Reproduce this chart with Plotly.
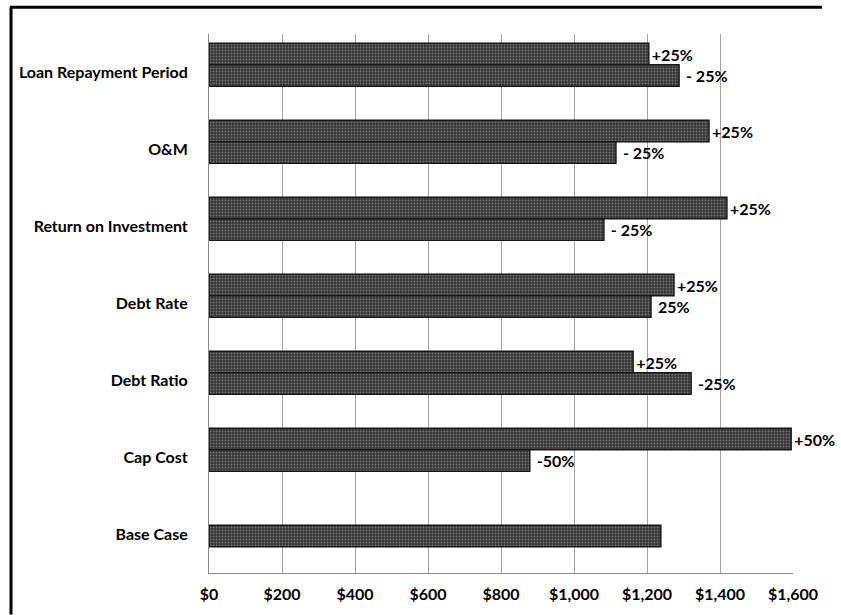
import plotly.graph_objects as go

categories = ["Base Case", "Cap Cost", "Debt Ratio", "Debt Rate",
              "Return on Investment", "O&M", "Loan Repayment Period"]

sens_categories = categories[1:]
plus_values = [1595, 1162, 1274, 1419, 1370, 1205]
plus_labels = ["+50%", "+25%", "+25%", "+25%", "+25%", "+25%"]
minus_values = [879, 1321, 1211, 1082, 1115, 1288]
minus_labels = ["-50%", "-25%", "25%", "- 25%", "- 25%", "- 25%"]
base_category = ["Base Case"]
base_value = [1238]

tick_values = [0, 200, 400, 600, 800, 1000, 1200, 1400, 1600]
tick_labels = ["$0", "$200", "$400", "$600", "$800", "$1,000", "$1,200", "$1,400", "$1,600"]

FONT = "Lato"
edge = "#161616"
W = 0.28
pattern = dict(shape=".", bgcolor="#353535", fgcolor="#767676",
               size=3, solidity=0.3, fillmode="replace")
marker = dict(color="#353535", line=dict(color=edge, width=1.4), pattern=pattern)
label_font = dict(family=FONT, size=16, color="black", weight="bold")

fig = go.Figure()
fig.add_trace(go.Bar(
    y=sens_categories, x=plus_values, orientation="h",
    offset=0.1, width=W, marker=marker,
    text=plus_labels, textposition="outside",
    cliponaxis=False, textfont=label_font,
    showlegend=False, hoverinfo="skip"))
fig.add_trace(go.Bar(
    y=sens_categories, x=minus_values, orientation="h",
    offset=0.1 - W, width=W, marker=marker,
    text=minus_labels, texttemplate=" %{text}", textposition="outside",
    cliponaxis=False, textfont=label_font,
    showlegend=False, hoverinfo="skip"))
fig.add_trace(go.Bar(
    y=base_category, x=base_value, orientation="h",
    offset=-W / 2 - 0.02, width=W, marker=marker,
    showlegend=False, hoverinfo="skip"))

L, R, T, B = 209, 48, 34, 37
pw = 841 - L - R
ph = 615 - T - B

def px_x(p):
    return (p - L) / pw

def px_y(p):
    return (615 - B - p) / ph

fig.update_layout(
    width=841, height=615,
    margin=dict(l=L, r=R, t=T, b=B),
    barmode="overlay",
    plot_bgcolor="white", paper_bgcolor="white",
    font=dict(family=FONT, size=16, color="black"),
    xaxis=dict(range=[0, 1600], tickvals=tick_values, ticktext=tick_labels,
               showgrid=True, gridcolor="#a4a4a4", gridwidth=1,
               zeroline=False, showline=True, linecolor="#8a8a8a",
               tickfont=dict(family=FONT, size=16, color="black", weight="bold"),
               ticks="", ticklabelstandoff=7),
    yaxis=dict(categoryorder="array", categoryarray=categories,
               range=[-0.5, 6.5],
               showgrid=False, zeroline=False, showline=True, linecolor="#8a8a8a",
               tickfont=dict(family=FONT, size=16, color="black", weight="bold"),
               ticks="", ticklabelstandoff=17),
    shapes=[
        dict(type="line", xref="paper", yref="paper",
             x0=px_x(11), x1=px_x(11), y0=px_y(7), y1=px_y(620),
             line=dict(color="black", width=3)),
        dict(type="line", xref="paper", yref="paper",
             x0=px_x(10), x1=px_x(822), y0=px_y(7), y1=px_y(7),
             line=dict(color="black", width=3)),
    ],
)

fig.write_html("out.html")
